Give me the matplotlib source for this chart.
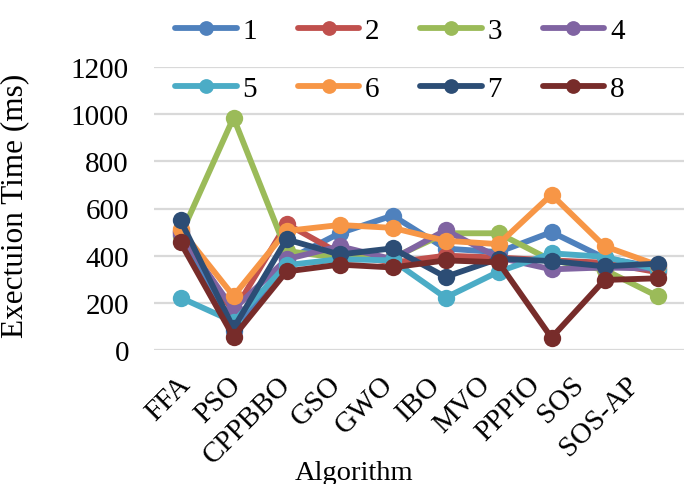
import matplotlib
matplotlib.use("Agg")
import matplotlib.pyplot as plt
from matplotlib.transforms import blended_transform_factory, ScaledTranslation

plt.rcParams['font.family'] = ['Liberation Serif', 'DejaVu Serif']

algorithms = ["FFA", "PSO", "CPPBBO", "GSO", "GWO", "IBO", "MVO", "PPPIO", "SOS", "SOS-AP"]
series_names = ["1", "2", "3", "4", "5", "6", "7", "8"]

s1 = [504, 80, 380, 495, 570, 430, 415, 500, 390, 350]
s2 = [500, 160, 535, 410, 370, 400, 392, 380, 370, 330]
s3 = [485, 985, 420, 390, 390, 495, 495, 380, 340, 228]
s4 = [490, 172, 385, 440, 385, 508, 392, 342, 350, 345]
s5 = [222, 120, 360, 385, 380, 222, 332, 410, 395, 340]
s6 = [512, 229, 505, 530, 518, 463, 449, 659, 440, 360]
s7 = [550, 92, 469, 405, 431, 310, 387, 377, 355, 366]
s8 = [456, 56, 333, 362, 350, 380, 372, 52, 297, 304]

y_ticks = [0, 200, 400, 600, 800, 1000, 1200]

series = [s1, s2, s3, s4, s5, s6, s7, s8]
colors = ["#4F81BD", "#C0504D", "#9BBB59", "#8064A2",
          "#4BACC6", "#F79646", "#2C4D75", "#772C2A"]

# horizontal nudges (px) of the rotated category labels, as in the reference
label_dx = [-3, -6, -9, -12, -13, -18, -21, -24, -34, -32]

W, H = 685, 485
fig = plt.figure(figsize=(W / 100, H / 100), dpi=100)
ax = fig.add_axes([154 / W, 1 - 351 / H, (684 - 154) / W, (351 - 68) / H])

x = list(range(len(algorithms)))
handles = []
for vals, c, name in zip(series, colors, series_names):
    h, = ax.plot(x, vals, color=c, linewidth=4.2, marker='o', markersize=12.5,
                 markeredgewidth=0, label=name, solid_capstyle='round',
                 solid_joinstyle='round', clip_on=False, zorder=3)
    handles.append(h)

ax.set_xlim(-0.5, len(algorithms) - 0.5)
ax.set_ylim(0, 1200)
ax.set_yticks(y_ticks)
ax.set_yticklabels([str(v) for v in y_ticks])
ax.set_xticks(x)
ax.set_xticklabels([])
ax.tick_params(axis='y', length=0, pad=18, labelsize=21)
ax.tick_params(axis='x', length=0)
ax.grid(axis='y', color='#D9D9D9', linewidth=1.6, zorder=0)
ax.set_axisbelow(True)
for sp in ax.spines.values():
    sp.set_visible(False)

base = blended_transform_factory(ax.transData, ax.transAxes)
for i, (lbl, dx) in enumerate(zip(algorithms, label_dx)):
    tr = base + ScaledTranslation(dx / 100, -21 / 100, fig.dpi_scale_trans)
    ax.text(i, 0, lbl, transform=tr, rotation=45, ha='right', va='top',
            rotation_mode='anchor', fontsize=21, clip_on=False)

fig.text(15 / W, 1 - 206 / H, "Exectuion Time (ms)", rotation=90,
         ha='center', va='center', fontsize=22.5)
fig.text(354 / W, 1 - 480 / H, "Algorithm", ha='center', va='baseline',
         fontsize=20.5)

order = [0, 4, 1, 5, 2, 6, 3, 7]
leg = fig.legend(handles=[handles[k] for k in order],
                 labels=[series_names[k] for k in order],
                 loc='center', ncol=4,
                 bbox_to_anchor=(400 / W, 1 - 61 / H),
                 bbox_transform=fig.transFigure, frameon=False,
                 fontsize=21, handlelength=2.1, handletextpad=0.2,
                 columnspacing=1.4, labelspacing=1.1, borderpad=0,
                 markerscale=0.85)

fig.savefig("out.png", dpi=100)
